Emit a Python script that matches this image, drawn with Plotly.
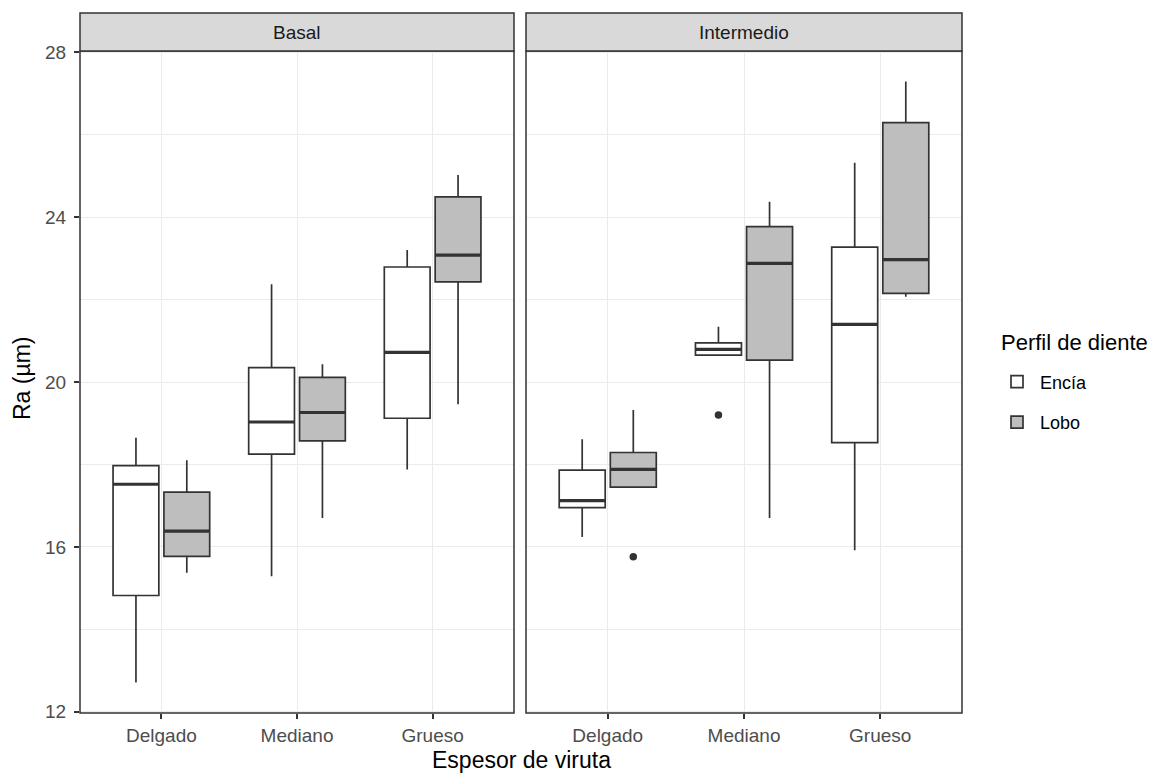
import plotly.graph_objects as go

# Categorías del eje x y facetas
categorias = ["Delgado", "Mediano", "Grueso"]
perfiles = ["Encía", "Lobo"]

# Estadísticos de caja — faceta Basal
basal_encia_min = [12.71, 15.29, 17.88]
basal_encia_q1 = [14.82, 18.25, 19.12]
basal_encia_med = [17.52, 19.03, 20.72]
basal_encia_q3 = [17.97, 20.35, 22.79]
basal_encia_max = [18.65, 22.37, 23.20]

basal_lobo_min = [15.37, 16.70, 19.46]
basal_lobo_q1 = [15.77, 18.57, 22.43]
basal_lobo_med = [16.38, 19.26, 23.08]
basal_lobo_q3 = [17.33, 20.11, 24.49]
basal_lobo_max = [18.10, 20.43, 25.02]

# Estadísticos de caja — faceta Intermedio
inter_encia_min = [16.24, 20.65, 15.92]
inter_encia_q1 = [16.95, 20.65, 18.53]
inter_encia_med = [17.12, 20.79, 21.40]
inter_encia_q3 = [17.86, 20.95, 23.27]
inter_encia_max = [18.61, 21.34, 25.32]
inter_encia_atipicos = [[], [19.20], []]

inter_lobo_min = [17.45, 16.70, 22.07]
inter_lobo_q1 = [17.45, 20.53, 22.15]
inter_lobo_med = [17.88, 22.88, 22.97]
inter_lobo_q3 = [18.29, 23.77, 26.29]
inter_lobo_max = [19.32, 24.37, 27.29]
inter_lobo_atipicos = [[15.76], [], []]

y_ticks = [12, 16, 20, 24, 28]

COLORES = {"Encía": "#FFFFFF", "Lobo": "#BEBEBE"}
LINEA = "#333333"
FUENTE = "Liberation Sans, Arial, sans-serif"

paneles = [
    ("Basal", "x", "y", {
        "Encía": (basal_encia_min, basal_encia_q1, basal_encia_med, basal_encia_q3, basal_encia_max, None),
        "Lobo": (basal_lobo_min, basal_lobo_q1, basal_lobo_med, basal_lobo_q3, basal_lobo_max, None),
    }),
    ("Intermedio", "x2", "y2", {
        "Encía": (inter_encia_min, inter_encia_q1, inter_encia_med, inter_encia_q3, inter_encia_max, inter_encia_atipicos),
        "Lobo": (inter_lobo_min, inter_lobo_q1, inter_lobo_med, inter_lobo_q3, inter_lobo_max, inter_lobo_atipicos),
    }),
]

fig = go.Figure()

for nombre, xa, ya, datos in paneles:
    for perfil in perfiles:
        lo, q1, med, q3, hi, atip = datos[perfil]
        if atip is not None:
            # muestra por caja: extremos de los bigotes y valores atípicos
            muestras = [[a, b] + list(o) for a, b, o in zip(lo, hi, atip)]
            kw = dict(y=muestras, boxpoints="outliers", pointpos=0, jitter=0,
                      marker=dict(color=LINEA, size=7.5, line=dict(width=0)))
        else:
            kw = dict(boxpoints=False)
        fig.add_trace(go.Box(
            x=categorias, q1=q1, median=med, q3=q3,
            lowerfence=lo, upperfence=hi, orientation="v",
            name=perfil, legendgroup=perfil,
            showlegend=(nombre == "Basal"),
            fillcolor=COLORES[perfil],
            line=dict(color=LINEA, width=1.7),
            whiskerwidth=0,
            offsetgroup=perfil, alignmentgroup=nombre,
            xaxis=xa, yaxis=ya, hoverinfo="skip", **kw,
        ))
    # mediana remarcada, dibujada encima de cada caja
    for perfil in perfiles:
        lo, q1, med, q3, hi, atip = datos[perfil]
        fig.add_trace(go.Box(
            x=categorias, q1=med, median=med, q3=med,
            lowerfence=med, upperfence=med, orientation="v",
            name=perfil, showlegend=False, boxpoints=False,
            fillcolor="rgba(0,0,0,0)",
            line=dict(color=LINEA, width=3.2),
            whiskerwidth=0,
            offsetgroup=perfil, alignmentgroup=nombre,
            xaxis=xa, yaxis=ya, hoverinfo="skip",
        ))

W, H = 1154, 774
ML, MR, MT, MB = 80, 192, 51, 61
PW = W - ML - MR
PH = H - MT - MB
d1 = 434 / PW
d2 = 446 / PW
strip_h = 38 / PH


def py(px):
    """Posición vertical en coordenadas de papel a partir de píxeles desde arriba."""
    return 1 - (px - MT) / PH


def px_(x):
    return (x - ML) / PW


eje_x = dict(
    type="category", categoryorder="array", categoryarray=categorias,
    range=[-0.6, 2.6], showgrid=True, gridcolor="#EBEBEB", gridwidth=1.3,
    zeroline=False, showline=False, ticks="outside", ticklen=5, tickwidth=1.5,
    tickcolor=LINEA, tickfont=dict(family=FUENTE, size=19, color="#4D4D4D"),
)
eje_y = dict(
    range=[11.97, 28.03], tickvals=y_ticks, showgrid=True,
    gridcolor="#EBEBEB", gridwidth=1.3, zeroline=False, showline=False,
    minor=dict(dtick=2, tick0=12, showgrid=True, gridcolor="#EBEBEB", gridwidth=0.7),
)

fig.update_layout(
    width=W, height=H,
    margin=dict(l=ML, r=MR, t=MT, b=MB, pad=0),
    paper_bgcolor="white", plot_bgcolor="white",
    boxmode="group", boxgap=0.25, boxgroupgap=0.1,
    font=dict(family=FUENTE, color="#000000"),
    xaxis=dict(domain=[0, d1], anchor="y", **eje_x),
    xaxis2=dict(domain=[d2, 1], anchor="y2", **eje_x),
    yaxis=dict(domain=[0, 1], anchor="x", ticks="outside", ticklen=5, tickwidth=1.5,
               tickcolor=LINEA, ticklabelstandoff=4,
               tickfont=dict(family=FUENTE, size=19, color="#4D4D4D"),
               **eje_y),
    yaxis2=dict(domain=[0, 1], anchor="x2", matches="y", showticklabels=False,
                ticks="", **eje_y),
    legend=dict(
        font=dict(family=FUENTE, size=18, color="#000000"),
        x=px_(994), xanchor="left",
        y=py(402), yanchor="middle",
        itemwidth=36,
        tracegroupgap=14, bgcolor="rgba(0,0,0,0)",
    ),
    showlegend=True,
)

# Bordes de panel y franjas de faceta
for nombre, xa, ya, _ in paneles:
    xd = xa + " domain"
    yd = ya + " domain"
    fig.add_shape(type="rect", xref=xd, yref=yd, x0=0, x1=1, y0=0, y1=1,
                  line=dict(color=LINEA, width=1.5), fillcolor="rgba(0,0,0,0)", layer="above")
    fig.add_shape(type="rect", xref=xd, yref="paper", x0=0, x1=1, y0=1, y1=1 + strip_h,
                  line=dict(color=LINEA, width=1.5), fillcolor="#D9D9D9", layer="above")
    fig.add_annotation(text=nombre, xref=xd, yref="paper", x=0.5, y=1 + strip_h / 2,
                       xanchor="center", yanchor="middle", showarrow=False,
                       font=dict(family=FUENTE, size=19, color="#1A1A1A"))

# Título de la leyenda
fig.add_annotation(text="Perfil de diente", xref="paper", yref="paper",
                   x=px_(999), y=py(342), xanchor="left", yanchor="middle",
                   showarrow=False, font=dict(family=FUENTE, size=22, color="#000000"))

# Títulos de ejes
fig.add_annotation(text="Espesor de viruta", xref="paper", yref="paper",
                   x=0.5, y=py(760), xanchor="center", yanchor="middle",
                   showarrow=False, font=dict(family=FUENTE, size=23, color="#000000"))
fig.add_annotation(text="Ra (µm)", xref="paper", yref="paper",
                   x=px_(22), y=py(378), xanchor="center", yanchor="middle",
                   textangle=-90, showarrow=False,
                   font=dict(family=FUENTE, size=23, color="#000000"))

fig.write_html("out.html")
